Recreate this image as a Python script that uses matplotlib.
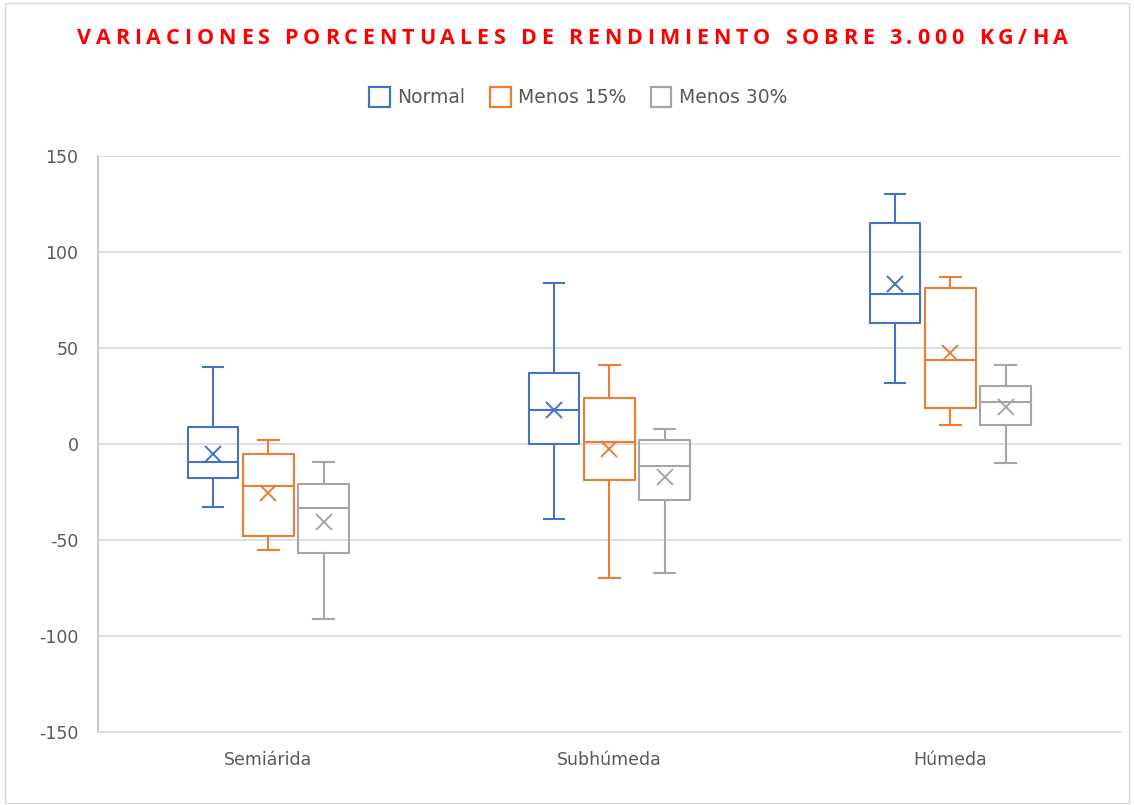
import numpy as np
import matplotlib.pyplot as plt
from matplotlib.patches import Patch, Rectangle
from matplotlib import font_manager
from matplotlib.ft2font import FT2Font

plt.rcParams['axes.unicode_minus'] = False

# --- data ---
zonas = ['Semiárida', 'Subhúmeda', 'Húmeda']
series = ['Normal', 'Menos 15%', 'Menos 30%']
colores = ['#4472C4', '#ED7D31', '#A5A5A5']
titulo = 'VARIACIONES PORCENTUALES DE RENDIMIENTO SOBRE 3.000 KG/HA'

# per series: one value per zone
whislo = {
    'Normal':    [-33, -39, 32],
    'Menos 15%': [-55, -70, 10],
    'Menos 30%': [-91, -67, -10],
}
q1 = {
    'Normal':    [-17.5, 0, 63],
    'Menos 15%': [-48, -19, 18.5],
    'Menos 30%': [-57, -29, 10],
}
medianas = {
    'Normal':    [-9.5, 17.5, 78],
    'Menos 15%': [-22, 1, 43.5],
    'Menos 30%': [-33.5, -11.5, 22],
}
q3 = {
    'Normal':    [9, 37, 115],
    'Menos 15%': [-5, 24, 81],
    'Menos 30%': [-21, 2, 30],
}
whishi = {
    'Normal':    [40, 84, 130],
    'Menos 15%': [2, 41, 87],
    'Menos 30%': [-9.5, 8, 41],
}
medias = {
    'Normal':    [-5, 17.5, 83.5],
    'Menos 15%': [-25.5, -2.5, 47.5],
    'Menos 30%': [-40.5, -17, 19.5],
}

W, H = 1134, 805
fig = plt.figure(figsize=(W / 100, H / 100), dpi=100)
ax = fig.add_axes([0.0864, 0.0907, 0.902, 0.7155])

# thin frame round the whole chart, like the Excel chart area
fig.patches.append(Rectangle((0.004, 0.002), 0.992, 0.994, transform=fig.transFigure,
                             fill=False, edgecolor='#D9D9D9', linewidth=1))

offsets = [-0.162, 0.0, 0.162]
ancho = 0.148

for s, serie in enumerate(series):
    c = colores[s]
    stats = []
    for i in range(len(zonas)):
        stats.append({
            'whislo': whislo[serie][i], 'q1': q1[serie][i], 'med': medianas[serie][i],
            'q3': q3[serie][i], 'whishi': whishi[serie][i], 'mean': medias[serie][i],
            'fliers': [],
        })
    pos = np.arange(len(zonas)) + 0.5 + offsets[s]
    ax.bxp(stats, positions=pos, widths=ancho, showmeans=True, manage_ticks=False,
           boxprops=dict(color=c, linewidth=1.5),
           medianprops=dict(color=c, linewidth=1.5),
           whiskerprops=dict(color=c, linewidth=1.5),
           capprops=dict(color=c, linewidth=1.5),
           capwidths=0.06,
           meanprops=dict(marker='x', markeredgecolor=c, markersize=11, markeredgewidth=1.4))

ax.set_xlim(0, 3)
ax.set_ylim(-150, 150)
ax.set_yticks(np.arange(-150, 151, 50))
ax.set_xticks(np.arange(len(zonas)) + 0.5)
ax.set_xticklabels(zonas)
ax.yaxis.grid(True, color='#D9D9D9', linewidth=1.2)
ax.set_axisbelow(True)
for side in ['top', 'right']:
    ax.spines[side].set_visible(False)
ax.spines['left'].set_color('#BFBFBF')
ax.spines['bottom'].set_color('#D9D9D9')
ax.spines['left'].set_linewidth(1.2)
ax.spines['bottom'].set_linewidth(1.2)
ax.tick_params(axis='both', length=0, colors='#595959', labelsize=12.5)
ax.tick_params(axis='y', pad=14)
ax.tick_params(axis='x', pad=14)

# title with wide letter spacing (Excel style): place each character by its advance
tsize = 15.5
fprop = font_manager.FontProperties(family='Open Sans', weight='bold', size=tsize)
ft = FT2Font(font_manager.findfont(fprop))
ft.set_size(tsize, 100)
avances = [ft.load_char(ord(ch)).linearHoriAdvance / 65536 for ch in titulo]
ancho_total = 991  # px, as in the reference
espacio = (ancho_total - sum(avances)) / (len(titulo) - 1)
x = 77.0
for ch, adv in zip(titulo, avances):
    fig.text(x / W, 1 - 38.5 / H, ch, ha='left', va='center', color='#FF0000',
             fontproperties=fprop)
    x += adv + espacio

handles = [Patch(facecolor='none', edgecolor=c, linewidth=1.6) for c in colores]
fig.legend(handles, series, loc='center', bbox_to_anchor=(0.51, 0.879), ncol=3,
           frameon=False, fontsize=13.5, labelcolor='#595959', handlelength=1.1,
           handleheight=1.2, handletextpad=0.4, columnspacing=1.3)

fig.savefig('out.png', dpi=100)
